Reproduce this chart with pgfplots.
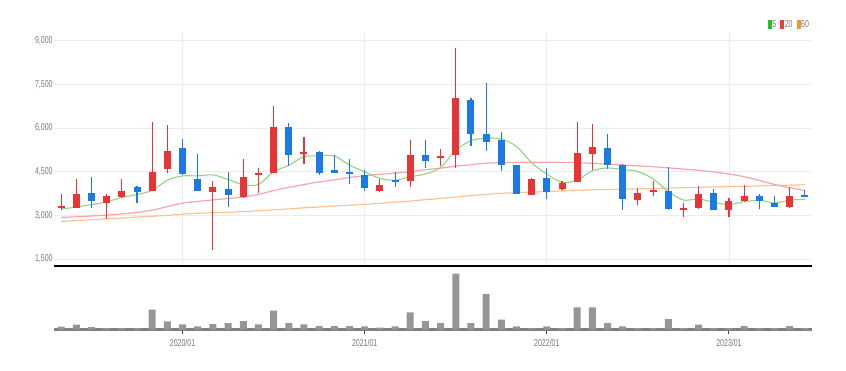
\documentclass[border=0pt]{standalone}
\usepackage{fontspec}
\setmainfont[FakeStretch=0.7]{Liberation Sans}
\usepackage{pgfplots}
\usepackage{pgfplotstable}
\pgfplotsset{compat=1.18}
\definecolor{cup}{RGB}{232,52,52}
\definecolor{cdn}{RGB}{28,122,228}
\definecolor{ma5}{RGB}{140,215,130}
\definecolor{ma20}{RGB}{245,165,172}
\definecolor{ma60}{RGB}{248,196,150}
\definecolor{lg5}{RGB}{40,190,40}
\definecolor{lg20}{RGB}{235,60,60}
\definecolor{lg60}{RGB}{240,150,50}
\definecolor{vol}{RGB}{150,150,150}
\definecolor{lbl}{RGB}{120,120,120}
\definecolor{grd}{RGB}{236,236,236}

\pgfplotstableread{
x o h l c
0 3240 3730 3180 3330
1 3250 4260 3240 3740
3 3410 3740 2890 3680
4 3635 4240 3600 3850
6 3840 6200 3830 4490
7 4600 6110 4460 5220
10 3810 4190 1810 3970
12 3640 4920 3610 4320
13 4400 4630 3770 4470
14 4470 6770 4450 6020
16 5110 5690 4780 5180
21 3850 4260 3810 4060
23 4190 5580 3980 5080
25 4980 5290 4700 5050
26 5080 8750 4630 7040
31 3690 4270 3690 4260
33 3890 4180 3860 4110
34 4150 6200 4130 5130
35 5110 6150 4550 5350
38 3520 3950 3370 3770
39 3810 4170 3660 3860
41 3190 3410 2950 3240
42 3240 4010 3210 3740
44 3190 3580 2950 3490
45 3500 4060 3460 3670
48 3290 3980 3270 3660
}\upc

\pgfplotstableread{
x o h l c
2 3780 4320 3270 3490
5 3970 4010 3430 3800
8 5320 5630 4380 4420
9 4240 5120 3850 3850
11 3900 4490 3290 3700
15 6020 6180 4700 5080
17 5180 5220 4380 4470
18 4550 5060 4470 4470
19 4500 4950 4070 4420
20 4380 4550 3830 3940
22 4220 4490 3980 4140
24 5060 5580 4630 4880
27 6980 7040 5400 5780
28 5790 7540 5200 5520
29 5580 5860 4510 4740
30 4720 4720 3750 3750
32 4290 4630 3560 3810
36 5320 5780 4600 4740
37 4740 4750 3180 3550
40 3840 4660 3180 3210
43 3760 3900 3190 3190
46 3660 3750 3210 3500
47 3440 3670 3290 3290
49 3690 3860 3650 3650
}\dnc

\begin{document}
\begin{tikzpicture}
\useasboundingbox (0,0) rectangle (846pt,-370pt);
% ---------------- price panel ----------------
\begin{axis}[
  at={(54.3pt,-266pt)}, anchor=south west,
  scale only axis, width=757.4pt, height=234pt,
  xmin=-0.45, xmax=49.45, ymin=1260, ymax=9300,
  axis x line=bottom, axis y line=left,
  x axis line style={-, draw=black, line width=2pt},
  y axis line style={draw=none},
  xtick={8,20,32,44}, xticklabels={},
  ytick={1500,3000,4500,6000,7500,9000},
  major tick length=0pt,
  xmajorgrids, ymajorgrids,
  grid style={grd, line width=0.9pt},
  scaled y ticks=false,
  /pgf/number format/assume math mode=true,
  /pgf/number format/1000 sep={,},
  yticklabel style={font=\fontsize{10}{11}\selectfont, text=lbl, inner sep=1.5pt},
  legend columns=3,
  legend style={at={(1,1)}, anchor=south east, xshift=-1.5pt, yshift=2pt,
    draw=none, fill=none, inner sep=0pt,
    font=\fontsize{10}{11}\selectfont, text=lbl,
    /tikz/every even column/.append style={column sep=3pt},
    nodes={inner sep=1pt}},
]
% moving averages
\addplot[ma60, line width=1.2pt, smooth, forget plot] coordinates {
(0,2790)(1,2820)(2,2850)(3,2880)(4,2910)(5,2940)(6,2970)(7,3000)(8,3040)(9,3070)
(10,3090)(11,3110)(12,3130)(13,3160)(14,3190)(15,3220)(16,3260)(17,3290)(18,3320)(19,3350)
(20,3380)(21,3410)(22,3450)(23,3490)(24,3540)(25,3580)(26,3630)(27,3680)(28,3720)(29,3760)
(30,3780)(31,3800)(32,3820)(33,3840)(34,3860)(35,3880)(36,3890)(37,3900)(38,3910)(39,3920)
(40,3940)(41,3950)(42,3960)(43,3980)(44,3990)(45,4000)(46,4010)(47,4030)(48,4040)(49,4050)};
\addplot[ma20, line width=1.2pt, smooth, forget plot] coordinates {
(0,2930)(1,2950)(2,2980)(3,3010)(4,3050)(5,3100)(6,3180)(7,3300)(8,3420)(9,3480)
(10,3530)(11,3580)(12,3630)(13,3720)(14,3850)(15,3960)(16,4060)(17,4150)(18,4220)(19,4300)
(20,4360)(21,4410)(22,4450)(23,4500)(24,4570)(25,4620)(26,4690)(27,4740)(28,4790)(29,4810)
(30,4820)(31,4825)(32,4825)(33,4820)(34,4810)(35,4790)(36,4760)(37,4730)(38,4700)(39,4670)
(40,4630)(41,4590)(42,4550)(43,4490)(44,4420)(45,4330)(46,4200)(47,4060)(48,3950)(49,3850)};
\addplot[ma5, line width=1.1pt, smooth, forget plot] coordinates {
(0,3210)(1,3290)(2,3370)(3,3460)(4,3618)(5,3712)(6,3862)(7,4208)(8,4356)(9,4356)
(10,4390)(11,4232)(12,4052)(13,4062)(14,4496)(15,4718)(16,5014)(17,5044)(18,5044)(19,4724)
(20,4496)(21,4272)(22,4206)(23,4328)(24,4420)(25,4642)(26,5238)(27,5566)(28,5654)(29,5626)
(30,5366)(31,4810)(32,4416)(33,4134)(34,4212)(35,4532)(36,4628)(37,4576)(38,4508)(39,4254)
(40,3826)(41,3526)(42,3564)(43,3448)(44,3374)(45,3466)(46,3518)(47,3428)(48,3522)(49,3554)};
% wicks
\addplot[draw=none, mark=none, forget plot, error bars/.cd, y dir=both, y explicit,
  error mark=none, error bar style={draw=cup, line width=1.1pt}]
  table[x=x, y expr={(\thisrow{h}+\thisrow{l})/2}, y error expr={(\thisrow{h}-\thisrow{l})/2}] {\upc};
\addplot[draw=none, mark=none, forget plot, error bars/.cd, y dir=both, y explicit,
  error mark=none, error bar style={draw=cdn, line width=1.1pt}]
  table[x=x, y expr={(\thisrow{h}+\thisrow{l})/2}, y error expr={(\thisrow{h}-\thisrow{l})/2}] {\dnc};
% bodies
\addplot[draw=none, mark=none, forget plot, error bars/.cd, y dir=both, y explicit,
  error mark=none, error bar style={draw=cup, line width=7pt}]
  table[x=x, y expr={(\thisrow{o}+\thisrow{c})/2}, y error expr={abs(\thisrow{c}-\thisrow{o})/2}] {\upc};
\addplot[draw=none, mark=none, forget plot, error bars/.cd, y dir=both, y explicit,
  error mark=none, error bar style={draw=cdn, line width=7pt}]
  table[x=x, y expr={(\thisrow{o}+\thisrow{c})/2}, y error expr={abs(\thisrow{c}-\thisrow{o})/2}] {\dnc};
% legend
\addlegendimage{legend image code/.code={\fill[lg5] (0pt,-4pt) rectangle (3.2pt,4pt);}}
\addlegendentry{5}
\addlegendimage{legend image code/.code={\fill[lg20] (0pt,-4pt) rectangle (3.2pt,4pt);}}
\addlegendentry{20}
\addlegendimage{legend image code/.code={\fill[lg60] (0pt,-4pt) rectangle (3.2pt,4pt);}}
\addlegendentry{60}
\end{axis}
% ---------------- volume panel ----------------
\begin{axis}[
  at={(54.3pt,-266pt)}, anchor=north west,
  scale only axis, width=757.4pt, height=63.5pt,
  xmin=-0.45, xmax=49.45, ymin=0, ymax=63.5,
  axis x line=bottom, axis y line=none,
  axis line style={-, draw=gray, line width=2.2pt},
  xtick={8,20,32,44}, xticklabels={2020/01,2021/01,2022/01,2023/01},
  tick align=outside, major tick length=4pt,
  xtick style={draw=darkgray, line width=1pt},
  xticklabel style={font=\fontsize{10}{11}\selectfont, text=lbl, yshift=-2pt},
  ybar, bar width=7pt, bar shift=0pt,
]
\addplot[fill=vol, draw=none] coordinates {
(0,2.8)(1,4.8)(2,2.5)(3,1.5)(4,1.5)(5,1.5)(6,19.8)(7,8.2)(8,5.2)(9,3.2)
(10,5.5)(11,6.5)(12,8.5)(13,5.2)(14,18.8)(15,6.5)(16,5.2)(17,3.5)(18,3.5)(19,3.5)
(20,3.2)(21,1.8)(22,3.2)(23,17.2)(24,8.5)(25,6.5)(26,55.8)(27,6.5)(28,35.5)(29,9.8)
(30,3.2)(31,1.5)(32,3.2)(33,1.5)(34,22.2)(35,22.2)(36,6.5)(37,3.2)(38,1.5)(39,1.5)
(40,10.5)(41,1.5)(42,4.8)(43,1.5)(44,1.5)(45,3.5)(46,1.5)(47,1.5)(48,3.5)(49,1.3)};
\end{axis}
\end{tikzpicture}
\end{document}
